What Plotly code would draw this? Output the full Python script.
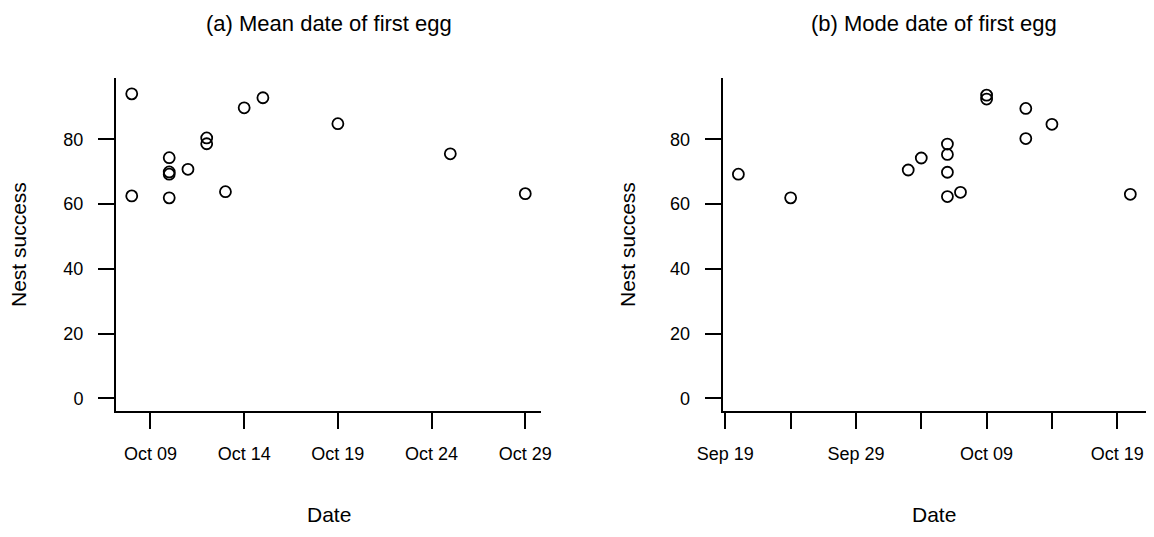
import pandas as pd
import plotly.graph_objects as go

# ---- data ----
mean_dates = ["2003-10-08", "2003-10-08", "2003-10-10", "2003-10-10", "2003-10-10",
              "2003-10-10", "2003-10-11", "2003-10-12", "2003-10-12", "2003-10-13",
              "2003-10-14", "2003-10-15", "2003-10-19", "2003-10-25", "2003-10-29"]
mean_success = [94.0, 62.5, 74.3, 69.9, 69.2, 61.9, 70.7, 80.4, 78.6, 63.8,
                89.7, 92.8, 84.8, 75.5, 63.2]

mode_dates = ["2003-09-20", "2003-09-24", "2003-10-03", "2003-10-04", "2003-10-06",
              "2003-10-06", "2003-10-06", "2003-10-06", "2003-10-07", "2003-10-09",
              "2003-10-09", "2003-10-12", "2003-10-12", "2003-10-14", "2003-10-20"]
mode_success = [69.2, 61.9, 70.5, 74.2, 78.5, 75.3, 69.8, 62.3, 63.6, 93.6,
                92.4, 89.5, 80.2, 84.6, 63.0]

mean_tickvals = ["2003-10-09", "2003-10-14", "2003-10-19", "2003-10-24", "2003-10-29"]
mean_ticktext = ["Oct 09", "Oct 14", "Oct 19", "Oct 24", "Oct 29"]
mode_tickvals = ["2003-09-19", "2003-09-24", "2003-09-29", "2003-10-04",
                 "2003-10-09", "2003-10-14", "2003-10-19"]
mode_ticktext = ["Sep 19", "", "Sep 29", "", "Oct 09", "", "Oct 19"]
y_tickvals = [0, 20, 40, 60, 80]

titles = ["(a) Mean date of first egg", "(b) Mode date of first egg"]
x_title = "Date"
y_title = "Nest success"

FONT = "Arial, Liberation Sans, sans-serif"
W, H = 1154, 537


def pad_range(dates, frac=0.04):
    d = pd.to_datetime(pd.Series(dates))
    span = d.max() - d.min()
    lo = d.min() - span * frac
    hi = d.max() + span * frac
    return [lo.strftime("%Y-%m-%d %H:%M:%S"), hi.strftime("%Y-%m-%d %H:%M:%S")]


y_lo, y_hi = 0, 95
y_pad = (y_hi - y_lo) * 0.04
y_range = [y_lo - y_pad, y_hi + y_pad]

# pixel layout (margins zero -> paper fractions)
xa_dom = [116 / W, 541 / W]
xb_dom = [722.7 / W, 1146 / W]
y_dom = [1 - 410.7 / H, 1 - 78.3 / H]

fig = go.Figure()
marker = dict(symbol="circle-open", size=11, color="black", line=dict(width=1.8, color="black"))
fig.add_trace(go.Scatter(x=mean_dates, y=mean_success, mode="markers", marker=marker,
                         xaxis="x", yaxis="y", showlegend=False))
fig.add_trace(go.Scatter(x=mode_dates, y=mode_success, mode="markers", marker=marker,
                         xaxis="x2", yaxis="y2", showlegend=False))

axis_common = dict(showline=True, linecolor="black", linewidth=2, ticks="outside",
                   ticklen=16, tickwidth=1.5, tickcolor="black", showgrid=False,
                   zeroline=False, automargin=False,
                   tickfont=dict(family=FONT, size=18, color="black"))

fig.update_layout(
    width=W, height=H, margin=dict(l=0, r=0, t=0, b=0),
    paper_bgcolor="white", plot_bgcolor="white", template="none",
    xaxis=dict(domain=xa_dom, anchor="y", type="date", range=pad_range(mean_dates),
               tickmode="array", tickvals=mean_tickvals, ticktext=mean_ticktext,
               ticklabelstandoff=10, **axis_common),
    yaxis=dict(domain=y_dom, anchor="x", range=y_range, tickmode="array",
               tickvals=y_tickvals, ticklabelstandoff=11, **axis_common),
    xaxis2=dict(domain=xb_dom, anchor="y2", type="date", range=pad_range(mode_dates),
                tickmode="array", tickvals=mode_tickvals, ticktext=mode_ticktext,
                ticklabelstandoff=10, **axis_common),
    yaxis2=dict(domain=y_dom, anchor="x2", range=y_range, tickmode="array",
                tickvals=y_tickvals, ticklabelstandoff=11, **axis_common),
)

title_font = dict(family=FONT, size=22, color="black")
lab_font = dict(family=FONT, size=21, color="black")
for dom, title, ylab_x in [(xa_dom, titles[0], 18), (xb_dom, titles[1], 627)]:
    cx = (dom[0] + dom[1]) / 2
    fig.add_annotation(x=cx, y=1 - 24 / H, xref="paper", yref="paper", text=title,
                       showarrow=False, font=title_font, xanchor="center", yanchor="middle")
    fig.add_annotation(x=cx, y=1 - 514 / H, xref="paper", yref="paper", text=x_title,
                       showarrow=False, font=lab_font, xanchor="center", yanchor="middle")
    fig.add_annotation(x=ylab_x / W, y=1 - 245 / H, xref="paper", yref="paper", text=y_title,
                       textangle=-90, showarrow=False, font=lab_font,
                       xanchor="center", yanchor="middle")

fig.write_html("out.html", config={"displayModeBar": False},
               post_script="document.body.style.margin='0px';")
